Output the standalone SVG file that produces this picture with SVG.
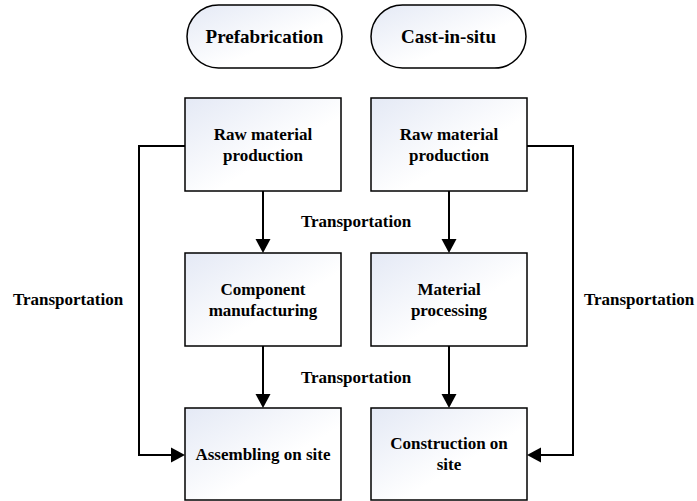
<svg xmlns="http://www.w3.org/2000/svg" width="697" height="501" viewBox="0 0 697 501">
<defs>
<linearGradient id="g" x1="0" y1="0" x2="1" y2="1">
<stop offset="0" stop-color="#e4e9f5"/>
<stop offset="0.6" stop-color="#ffffff"/>
<stop offset="1" stop-color="#ffffff"/>
</linearGradient>
<style>
.box{fill:url(#g);stroke:#000;stroke-width:1.5}
.t{font-family:"Liberation Serif","Times New Roman",serif;font-weight:bold;font-size:17px;fill:#000;text-anchor:middle}
.p{font-size:19px}
.c{fill:none;stroke:#000;stroke-width:2}
.h{fill:#000;stroke:none}
</style>
</defs>
<rect width="697" height="501" fill="#fff"/>
<g id="prefabrication">
<rect class="box" x="187" y="5" width="155" height="63" rx="31.5"/>
<text class="t p" x="264.5" y="43">Prefabrication</text>
</g>
<g id="cast-in-situ">
<rect class="box" x="371" y="5" width="155" height="63" rx="31.5"/>
<text class="t p" x="448.5" y="43">Cast-in-situ</text>
</g>
<g id="raw1">
<rect class="box" x="185" y="98" width="156" height="93"/>
<text class="t" x="263" y="140">Raw material</text>
<text class="t" x="263" y="161">production</text>
</g>
<g id="raw2">
<rect class="box" x="371" y="98" width="156" height="93"/>
<text class="t" x="449" y="140">Raw material</text>
<text class="t" x="449" y="161">production</text>
</g>
<g id="component">
<rect class="box" x="185" y="253" width="156" height="93"/>
<text class="t" x="263" y="295">Component</text>
<text class="t" x="263" y="316">manufacturing</text>
</g>
<g id="processing">
<rect class="box" x="371" y="253" width="156" height="93"/>
<text class="t" x="449" y="295">Material</text>
<text class="t" x="449" y="316">processing</text>
</g>
<g id="assembling">
<rect class="box" x="185" y="408" width="156" height="92"/>
<text class="t" x="263" y="460">Assembling on site</text>
</g>
<g id="construction">
<rect class="box" x="371" y="408" width="156" height="92"/>
<text class="t" x="449" y="449">Construction on</text>
<text class="t" x="449" y="470">site</text>
</g>
<g id="connectors">
<path class="c" d="M263,191 V240"/>
<path class="h" d="M255.5,239 L270.5,239 L263,253 Z"/>
<path class="c" d="M449,191 V240"/>
<path class="h" d="M441.5,239 L456.5,239 L449,253 Z"/>
<path class="c" d="M263,346 V395"/>
<path class="h" d="M255.5,394 L270.5,394 L263,408 Z"/>
<path class="c" d="M449,346 V395"/>
<path class="h" d="M441.5,394 L456.5,394 L449,408 Z"/>
<path class="c" d="M185,146 H139 V455 H172"/>
<path class="h" d="M171,447.5 L171,462.5 L185,455 Z"/>
<path class="c" d="M527,146 H573 V455 H540"/>
<path class="h" d="M541,447.5 L541,462.5 L527,455 Z"/>
<text class="t" x="356" y="227">Transportation</text>
<text class="t" x="356" y="383">Transportation</text>
<text class="t" x="68" y="305">Transportation</text>
<text class="t" x="639" y="305">Transportation</text>
</g>
</svg>
